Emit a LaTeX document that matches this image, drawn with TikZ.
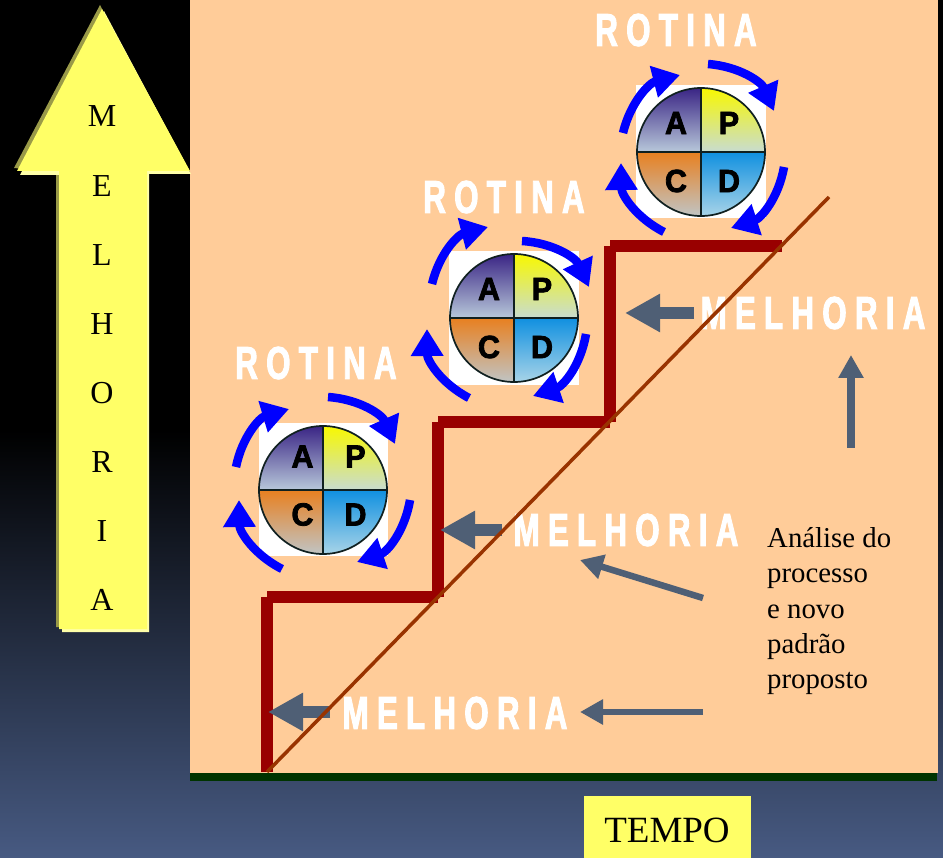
\documentclass[tikz,border=0pt]{standalone}
\usepackage{fontspec}
\usetikzlibrary{arrows.meta}
\setmainfont{Liberation Serif}
\newfontfamily\wideword[FakeStretch=0.68,LetterSpace=18,FakeBold=2]{Liberation Sans}
\newfontfamily\pdcafont[FakeStretch=0.95,FakeBold=2.5]{Liberation Sans}
\definecolor{peach}{HTML}{FFCC99}
\definecolor{ylw}{HTML}{FFFF66}
\definecolor{ylwshade}{HTML}{9A9A48}
\definecolor{ylwlight}{HTML}{FFFFA8}
\definecolor{stepred}{HTML}{990000}
\definecolor{diag}{HTML}{993300}
\definecolor{slate}{HTML}{4F5F75}
\definecolor{axisgreen}{HTML}{003300}
\definecolor{navy}{HTML}{475A82}
\definecolor{atop}{HTML}{3A2585}
\definecolor{abot}{HTML}{B8C8DA}
\definecolor{ptop}{HTML}{F8F800}
\definecolor{pbot}{HTML}{C8DCD0}
\definecolor{ctop}{HTML}{E88020}
\definecolor{cbot}{HTML}{C0C4C4}
\definecolor{dtop}{HTML}{1090E0}
\definecolor{dbot}{HTML}{A8D4E8}
\definecolor{ringline}{HTML}{102020}
\tikzset{
  x=1pt,y=-1pt,
  stepline/.style={draw=stepred,line width=12pt,line cap=butt},
  cycarrow/.style={draw=blue,line width=8.5pt,-{Triangle[length=27pt,width=31pt]}},
  pointer/.style={draw=slate,line width=12pt,-{Triangle[length=35pt,width=36pt]}},
  thinpointer/.style={draw=slate,line width=6.5pt,-{Triangle[length=23pt,width=24pt]}},
  bigword/.style={font=\wideword\bfseries\fontsize{46}{46}\selectfont,text=white,inner sep=0pt},
  arrowletter/.style={font=\fontsize{32}{32}\selectfont,text=black,inner sep=0pt},
  pdcaletter/.style={font=\pdcafont\bfseries\fontsize{32}{32}\selectfont,text=black,inner sep=0pt},
}
\newcommand{\pdcamod}[9]{% name, cx, cy, white box corners, letter shift
  \fill[white] (#4,#5) rectangle (#6,#7);
  \begin{scope}
    \clip (#2,#3) circle (64pt);
    \shade[top color=atop,bottom color=abot] (#2-64,#3-64) rectangle (#2,#3);
    \shade[top color=ptop,bottom color=pbot] (#2,#3-64) rectangle (#2+64,#3);
    \shade[top color=ctop,bottom color=cbot] (#2-64,#3) rectangle (#2,#3+64);
    \shade[top color=dtop,bottom color=dbot] (#2,#3) rectangle (#2+64,#3+64);
  \end{scope}
  \draw[ringline,line width=1.7pt] (#2,#3) circle (64pt);
  \draw[ringline,line width=1.7pt] (#2-64,#3) -- (#2+64,#3) (#2,#3-64) -- (#2,#3+64);
  \node[pdcaletter] (#1A) at (#2-25+#8,#3-29+#9) {A};
  \node[pdcaletter] (#1P) at (#2+28+#8,#3-29+#9) {P};
  \node[pdcaletter] (#1C) at (#2-25+#8,#3+29+#9) {C};
  \node[pdcaletter] (#1D) at (#2+28+#8,#3+29+#9) {D};
}
\newcommand{\cyc}[3]{%
  \coordinate (#1s) at #2;
  \coordinate (#1e) at #3;
  \draw[cycarrow] (#1s) to[bend left=31] (#1e);
}
\begin{document}
\begin{tikzpicture}
\useasboundingbox (0,0) rectangle (943,858);
% background
\fill[black] (0,0) rectangle (943,431);
\shade[top color=black,bottom color=navy] (0,430) rectangle (943,858);
\fill[peach] (190,0) rectangle (938,773);
\fill[axisgreen] (190,773) rectangle (937,781);
% big arrow
\fill[ylwshade] (100,5) -- (14,168) -- (56,172) -- (56,627) -- (145,627) -- (145,172) -- (187,170) -- cycle;
\fill[ylwlight] (104,11) -- (20,175) -- (62,175) -- (62,632) -- (149,632) -- (149,174) -- (191,174) -- cycle;
\fill[ylw] (102,9) -- (17,171) -- (59,171) -- (59,629) -- (147,629) -- (147,171) -- (190,171) -- cycle;
\foreach \n/\l/\y in {a/M/116,b/E/186,c/L/255,d/H/324,e/O/393,f/R/462,g/I/531,h/A/600}
  \node[arrowletter] (arrow\n) at (102,\y) {\l};
% PDCA
\pdcamod{one}{323}{490}{259}{423}{388}{556}{4.5}{-4.5}
\pdcamod{two}{514}{318}{449}{251}{579}{385}{0}{0}
\pdcamod{three}{701}{152}{636}{85}{766}{218}{0}{0}
% cycle arrows
\cyc{ta}{(708,64)}{(774,111)}
\cyc{tb}{(784,167)}{(731,228)}
\cyc{tc}{(664,232)}{(621,163)}
\cyc{td}{(623,133)}{(680,75)}
\cyc{ma}{(522,241)}{(589,287)}
\cyc{mb}{(586,334)}{(533,396)}
\cyc{mc}{(469,398)}{(427,329)}
\cyc{md}{(432,284)}{(488,227)}
\cyc{la}{(328,397)}{(395,444)}
\cyc{lb}{(410,500)}{(357,562)}
\cyc{lc}{(282,569)}{(239,500)}
\cyc{ld}{(236,467)}{(289,409)}
% steps
\coordinate (s0) at (267,772); \coordinate (s1) at (267,597);
\coordinate (s2) at (438,597); \coordinate (s3) at (438,422);
\coordinate (s4) at (610,422); \coordinate (s5) at (610,246);
\coordinate (s6) at (782,246);
\draw[stepline] (s0) -- (s1);
\draw[stepline] (s1) -- (s2);
\draw[stepline] (s2) -- (s3);
\draw[stepline] (s3) -- (s4);
\draw[stepline] (s4) -- (s5);
\draw[stepline] (s5) -- (s6);
% pointers
\coordinate (p1s) at (330,712); \coordinate (p1e) at (268,712);
\coordinate (p2s) at (502,530); \coordinate (p2e) at (440,530);
\coordinate (p3s) at (694,313); \coordinate (p3e) at (625,313);
\draw[pointer] (p1s) -- (p1e);
\draw[pointer] (p2s) -- (p2e);
\draw[pointer] (p3s) -- (p3e);
% words
\node[bigword] (rot1) at (316,363) {ROTINA};
\node[bigword] (rot2) at (504,197) {ROTINA};
\node[bigword] (rot3) at (676,30) {ROTINA};
\node[bigword] (mel1) at (455,713) {MELHORIA};
\node[bigword] (mel2) at (626,530) {MELHORIA};
\node[bigword] (mel3) at (813,313) {MELHORIA};
% diagonal
\coordinate (d0) at (267,772); \coordinate (d1) at (829,197);
\draw[diag,line width=3.5pt] (d0) -- (d1);
% thin pointers
\coordinate (q1s) at (703,712); \coordinate (q1e) at (580,712);
\coordinate (q2s) at (703,598); \coordinate (q2e) at (580,560);
\coordinate (q3s) at (851,448); \coordinate (q3e) at (851,355);
\draw[thinpointer] (q1s) -- (q1e);
\draw[thinpointer] (q2s) -- (q2e);
\draw[thinpointer,line width=8pt] (q3s) -- (q3e);
% text
\node[anchor=north west,inner sep=0pt,align=left,text=black,font=\fontsize{28.8}{35.4}\selectfont] (note) at (767,527) {Análise do\\processo\\e novo\\padrão\\proposto};
\node[fill=ylw,anchor=north west,minimum width=167pt,minimum height=62pt,inner sep=0pt,text=black] (tempo) at (584,796) {};
\node[inner sep=0pt,font=\fontsize{37}{37}\selectfont,text=black] (tempolabel) at (667,830) {TEMPO};
\end{tikzpicture}
\end{document}
